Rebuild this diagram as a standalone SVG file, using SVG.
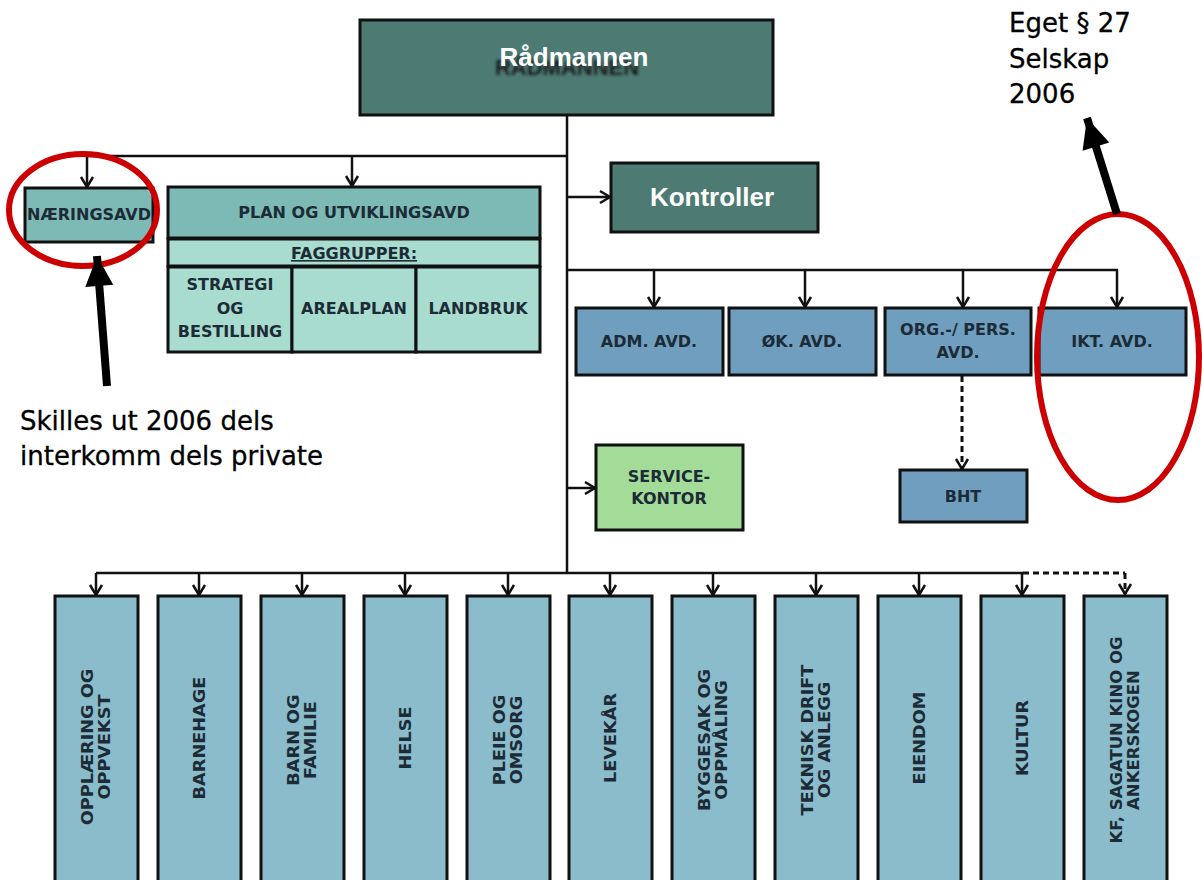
<svg xmlns="http://www.w3.org/2000/svg" width="1202" height="880" viewBox="0 0 1202 880">
  <style>
    .box { stroke: #111; stroke-width: 3; }
    .dark { fill: #4d7b74; }
    .teal { fill: #7dbab6; }
    .mint { fill: #a8dccf; }
    .blue { fill: #6f9ebf; }
    .green { fill: #a3dc98; }
    .unit { fill: #8bbccb; }
    .lbl { font-family: "DejaVu Sans", Verdana, sans-serif; font-weight: bold; font-size: 16px; fill: #1c2b36; text-anchor: middle; }
    .vlbl { font-family: "DejaVu Sans", Verdana, sans-serif; font-weight: bold; font-size: 15px; fill: #1c2b36; text-anchor: middle; }
    .head { font-family: "Liberation Sans", Arial, sans-serif; font-weight: bold; font-size: 26px; fill: #ffffff; text-anchor: middle; }
    .note { font-family: "DejaVu Sans", Verdana, sans-serif; font-size: 26px; fill: #000; stroke: #000; stroke-width: 0.3; }
    .link { stroke: #111; stroke-width: 2.5; fill: none; }
    .dash { stroke: #111; stroke-width: 3; fill: none; stroke-dasharray: 6 4; }
    .ring { stroke: #cc0000; stroke-width: 6; fill: none; }
  </style>
  <defs>
    <marker id="tip" markerUnits="userSpaceOnUse" markerWidth="16" markerHeight="16" viewBox="0 0 16 16" refX="14" refY="8" orient="auto">
      <path d="M4,2 L14,8 L4,14" fill="none" stroke="#111" stroke-width="2.5"/>
    </marker>
    <marker id="bold" markerUnits="userSpaceOnUse" markerWidth="40" markerHeight="40" viewBox="0 0 40 40" refX="36" refY="20" orient="auto">
      <path d="M36,20 L6,6 L6,34 Z" fill="#000"/>
    </marker>
    <filter id="soft" x="-10%" y="-30%" width="120%" height="160%">
      <feGaussianBlur stdDeviation="1.5"/>
    </filter>
  </defs>

  <rect width="1202" height="880" fill="#ffffff"/>

  <!-- connectors -->
  <g id="connectors">
    <line class="link" x1="567" y1="115" x2="567" y2="573"/>
    <polyline class="link" points="567,156 87,156"/>
    <line class="link" x1="87" y1="156" x2="87" y2="187" marker-end="url(#tip)"/>
    <line class="link" x1="352" y1="156" x2="352" y2="186" marker-end="url(#tip)"/>
    <line class="link" x1="567" y1="197" x2="610" y2="197" marker-end="url(#tip)"/>
    <line class="link" x1="567" y1="270" x2="1118" y2="270"/>
    <line class="link" x1="654" y1="270" x2="654" y2="307" marker-end="url(#tip)"/>
    <line class="link" x1="805" y1="270" x2="805" y2="307" marker-end="url(#tip)"/>
    <line class="link" x1="963" y1="270" x2="963" y2="307" marker-end="url(#tip)"/>
    <line class="link" x1="1117" y1="270" x2="1117" y2="307" marker-end="url(#tip)"/>
    <line class="dash" x1="962" y1="376" x2="962" y2="469" marker-end="url(#tip)"/>
    <line class="link" x1="567" y1="488" x2="595" y2="488" marker-end="url(#tip)"/>
    <line class="link" x1="96" y1="573" x2="1023" y2="573"/>
    <line class="dash" x1="1023" y1="573" x2="1125" y2="573"/>
    <line class="dash" x1="1125" y1="573" x2="1125" y2="594" marker-end="url(#tip)"/>
    <line class="link" x1="96" y1="573" x2="96" y2="595" marker-end="url(#tip)"/>
    <line class="link" x1="199" y1="573" x2="199" y2="595" marker-end="url(#tip)"/>
    <line class="link" x1="302" y1="573" x2="302" y2="595" marker-end="url(#tip)"/>
    <line class="link" x1="405" y1="573" x2="405" y2="595" marker-end="url(#tip)"/>
    <line class="link" x1="508" y1="573" x2="508" y2="595" marker-end="url(#tip)"/>
    <line class="link" x1="610" y1="573" x2="610" y2="595" marker-end="url(#tip)"/>
    <line class="link" x1="713" y1="573" x2="713" y2="595" marker-end="url(#tip)"/>
    <line class="link" x1="816" y1="573" x2="816" y2="595" marker-end="url(#tip)"/>
    <line class="link" x1="919" y1="573" x2="919" y2="595" marker-end="url(#tip)"/>
    <line class="link" x1="1022" y1="573" x2="1022" y2="595" marker-end="url(#tip)"/>
  </g>

  <!-- top level -->
  <g id="radmannen">
    <rect class="box dark" x="360" y="20" width="413" height="95"/>
    <text x="567" y="75" class="head" style="fill:#1a1a1a;font-size:22px" filter="url(#soft)">RÅDMANNEN</text>
    <text x="574" y="66" class="head" font-size="27">Rådmannen</text>
  </g>

  <g id="naeringsavd">
    <rect class="box teal" x="25" y="188" width="128" height="54"/>
    <text x="89" y="220" class="lbl" font-size="15">NÆRINGSAVD</text>
  </g>

  <g id="plan">
    <rect class="box teal" x="168" y="187" width="372" height="51"/>
    <text x="354" y="218" class="lbl">PLAN OG UTVIKLINGSAVD</text>
    <rect class="box mint" x="168" y="239" width="372" height="27"/>
    <text x="354" y="259" class="lbl" text-decoration="underline">FAGGRUPPER:</text>
    <rect class="box mint" x="168" y="267" width="124" height="85"/>
    <rect class="box mint" x="292" y="267" width="124" height="85"/>
    <rect class="box mint" x="416" y="267" width="124" height="85"/>
    <text class="lbl" x="230" y="290">STRATEGI</text>
    <text class="lbl" x="230" y="314">OG</text>
    <text class="lbl" x="230" y="337">BESTILLING</text>
    <text class="lbl" x="354" y="314">AREALPLAN</text>
    <text class="lbl" x="478" y="314">LANDBRUK</text>
  </g>

  <g id="kontroller">
    <rect class="box dark" x="611" y="163" width="207" height="69"/>
    <text x="712" y="206" class="head">Kontroller</text>
  </g>

  <!-- staff units -->
  <g id="adm">
    <rect class="box blue" x="576" y="308" width="147" height="67"/>
    <text class="lbl" x="649" y="347">ADM. AVD.</text>
  </g>
  <g id="ok">
    <rect class="box blue" x="729" y="308" width="147" height="67"/>
    <text class="lbl" x="802" y="347">ØK. AVD.</text>
  </g>
  <g id="org">
    <rect class="box blue" x="885" y="308" width="146" height="67"/>
    <text class="lbl" x="958" y="335">ORG.-/ PERS.</text>
    <text class="lbl" x="958" y="358">AVD.</text>
  </g>
  <g id="ikt">
    <rect class="box blue" x="1039" y="308" width="147" height="67"/>
    <text class="lbl" x="1112" y="347">IKT. AVD.</text>
  </g>
  <g id="bht">
    <rect class="box blue" x="900" y="470" width="127" height="52"/>
    <text class="lbl" x="963" y="502">BHT</text>
  </g>
  <g id="service">
    <rect class="box green" x="596" y="445" width="147" height="85"/>
    <text class="lbl" x="669" y="482">SERVICE-</text>
    <text class="lbl" x="669" y="504">KONTOR</text>
  </g>

  <!-- service units: labels read bottom-to-top, stretched along the reading axis -->
  <g id="opplaering">
    <rect class="box unit" x="55" y="596" width="83" height="290"/>
    <text class="vlbl" transform="translate(96,747) rotate(-90) scale(1.18,1)"><tspan x="0" y="-3">OPPLÆRING OG</tspan><tspan x="0" y="14">OPPVEKST</tspan></text>
  </g>
  <g id="barnehage">
    <rect class="box unit" x="158" y="596" width="83" height="290"/>
    <text class="vlbl" transform="translate(199,738) rotate(-90) scale(1.18,1)"><tspan x="0" y="6">BARNEHAGE</tspan></text>
  </g>
  <g id="barn">
    <rect class="box unit" x="261" y="596" width="83" height="290"/>
    <text class="vlbl" transform="translate(302,740) rotate(-90) scale(1.18,1)"><tspan x="0" y="-3">BARN OG</tspan><tspan x="0" y="14">FAMILIE</tspan></text>
  </g>
  <g id="helse">
    <rect class="box unit" x="364" y="596" width="83" height="290"/>
    <text class="vlbl" transform="translate(405,738) rotate(-90) scale(1.18,1)"><tspan x="0" y="6">HELSE</tspan></text>
  </g>
  <g id="pleie">
    <rect class="box unit" x="467" y="596" width="83" height="290"/>
    <text class="vlbl" transform="translate(508,740) rotate(-90) scale(1.18,1)"><tspan x="0" y="-3">PLEIE OG</tspan><tspan x="0" y="14">OMSORG</tspan></text>
  </g>
  <g id="levekar">
    <rect class="box unit" x="569" y="596" width="83" height="290"/>
    <text class="vlbl" transform="translate(610,738) rotate(-90) scale(1.18,1)"><tspan x="0" y="6">LEVEKÅR</tspan></text>
  </g>
  <g id="byggesak">
    <rect class="box unit" x="672" y="596" width="83" height="290"/>
    <text class="vlbl" transform="translate(713,740) rotate(-90) scale(1.18,1)"><tspan x="0" y="-3">BYGGESAK OG</tspan><tspan x="0" y="14">OPPMÅLING</tspan></text>
  </g>
  <g id="teknisk">
    <rect class="box unit" x="775" y="596" width="83" height="290"/>
    <text class="vlbl" transform="translate(816,740) rotate(-90) scale(1.18,1)"><tspan x="0" y="-3">TEKNISK DRIFT</tspan><tspan x="0" y="14">OG ANLEGG</tspan></text>
  </g>
  <g id="eiendom">
    <rect class="box unit" x="878" y="596" width="83" height="290"/>
    <text class="vlbl" transform="translate(919,738) rotate(-90) scale(1.18,1)"><tspan x="0" y="6">EIENDOM</tspan></text>
  </g>
  <g id="kultur">
    <rect class="box unit" x="981" y="596" width="83" height="290"/>
    <text class="vlbl" transform="translate(1022,738) rotate(-90) scale(1.18,1)"><tspan x="0" y="6">KULTUR</tspan></text>
  </g>
  <g id="kf">
    <rect class="box unit" x="1084" y="596" width="83" height="290"/>
    <text class="vlbl" transform="translate(1125,740) rotate(-90) scale(1.1,1)"><tspan x="0" y="-3">KF, SAGATUN KINO OG</tspan><tspan x="0" y="14">ANKERSKOGEN</tspan></text>
  </g>

  <!-- annotations -->
  <g id="annotations">
    <ellipse class="ring" cx="83" cy="210" rx="74" ry="56"/>
    <ellipse class="ring" cx="1118" cy="357" rx="81" ry="143"/>
    <line x1="107" y1="386" x2="97" y2="256" stroke="#000" stroke-width="8" marker-end="url(#bold)"/>
    <line x1="1117" y1="214" x2="1087" y2="118" stroke="#000" stroke-width="8" marker-end="url(#bold)"/>
    <text class="note" x="20" y="430">Skilles ut 2006 dels</text>
    <text class="note" x="20" y="465">interkomm dels private</text>
    <text class="note" x="1009" y="32">Eget § 27</text>
    <text class="note" x="1009" y="68">Selskap</text>
    <text class="note" x="1009" y="103">2006</text>
  </g>
</svg>
